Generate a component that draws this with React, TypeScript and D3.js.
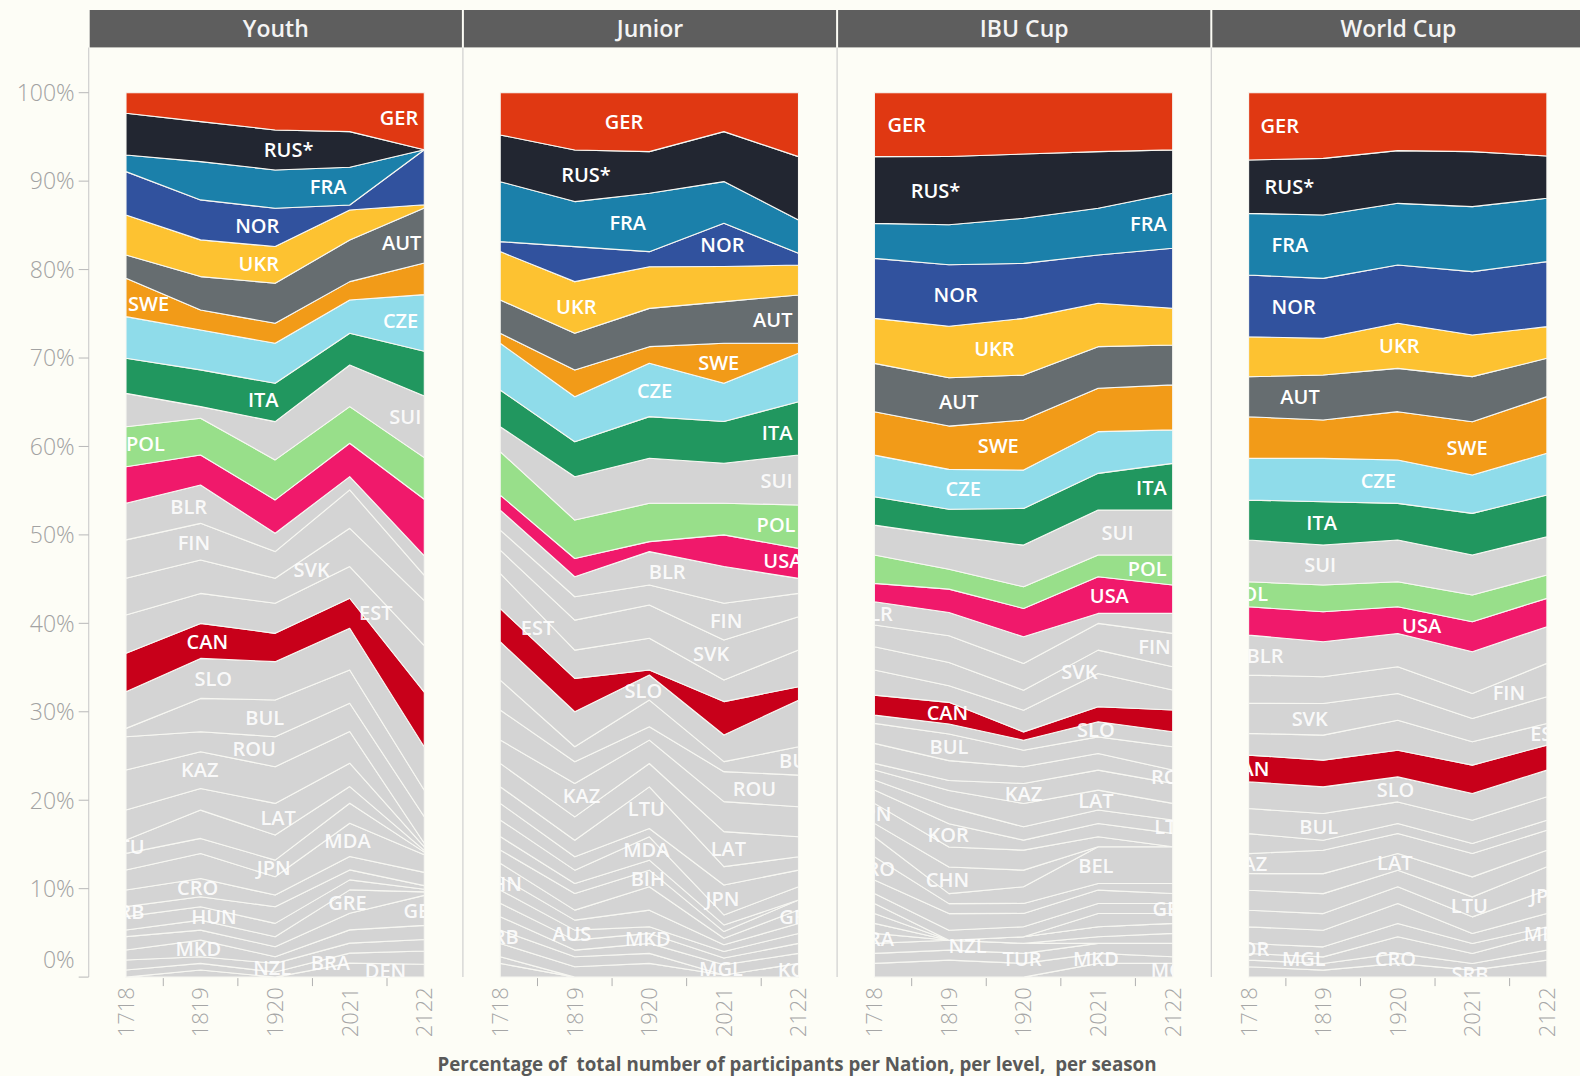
import React from 'react';
import * as d3 from 'd3';

// seasons, levels and axis ticks
const SEASONS = ['1718', '1819', '1920', '2021', '2122'];
const LEVELS = ['Youth', 'Junior', 'IBU Cup', 'World Cup'];
const Y_TICKS = [0, 0.1, 0.2, 0.3, 0.4, 0.5, 0.6, 0.7, 0.8, 0.9, 1];
const TITLE = 'Percentage of  total number of participants per Nation, per level,  per season';

const COLORS: Record<string, string> = {
  GER: '#e03812', 'RUS*': '#222631', FRA: '#1b80aa', NOR: '#31529e', UKR: '#fdc231',
  AUT: '#666d70', SWE: '#f29b18', CZE: '#8fdcea', ITA: '#21975f', POL: '#98df8a',
  USA: '#f0196b', CAN: '#c8001a',
};
const OTHER = '#d4d4d4';
const BG = '#fdfdf6';

// share of participants (%) per nation, top of the stack first
const YOUTH: [string, number[]][] = [
  ['GER', [2.33, 3.27, 4.21, 4.40, 6.47]],
  ['RUS*', [4.71, 4.52, 4.52, 4.03, 0]],
  ['FRA', [1.88, 4.33, 4.33, 4.26, 0]],
  ['NOR', [4.90, 4.52, 4.33, 0.57, 6.22]],
  ['UKR', [4.52, 4.15, 4.15, 3.39, 0.38]],
  ['AUT', [2.64, 3.77, 4.52, 4.71, 6.22]],
  ['SWE', [4.33, 2.26, 2.26, 2.07, 3.58]],
  ['CZE', [4.71, 4.52, 4.52, 3.77, 6.41]],
  ['ITA', [3.96, 4.15, 4.33, 3.58, 5.09]],
  ['SUI', [3.77, 1.32, 4.33, 4.71, 6.97]],
  ['POL', [4.52, 4.15, 4.52, 4.15, 4.71]],
  ['USA', [4.13, 3.40, 3.77, 3.76, 6.41]],
  ['BLR', [4.14, 4.33, 2.07, 1.51, 2.23]],
  ['FIN', [4.34, 4.15, 3.02, 4.34, 2.86]],
  ['SVK', [4.14, 3.77, 2.82, 4.33, 5.09]],
  ['EST', [4.34, 3.39, 3.40, 3.58, 5.27]],
  ['CAN', [4.33, 3.96, 3.20, 3.39, 6.22]],
  ['SLO', [4.15, 4.52, 4.33, 4.71, 4.90]],
  ['BUL', [0.94, 3.77, 4.15, 3.77, 3.00]],
  ['ROU', [3.77, 2.26, 3.39, 3.20, 3.00]],
  ['KAZ', [4.52, 4.15, 4.15, 3.58, 0.40]],
  ['LAT', [3.39, 2.45, 3.58, 2.64, 0.40]],
  ['LTU', [1.51, 3.20, 2.83, 1.88, 0.20]],
  ['JPN', [1.88, 1.70, 1.88, 2.26, 0.30]],
  ['MDA', [2.26, 2.83, 2.07, 3.77, 2.00]],
  ['CRO', [1.88, 2.07, 1.32, 1.51, 1.50]],
  ['SRB', [1.13, 1.13, 1.88, 1.13, 0.40]],
  ['HUN', [1.51, 1.51, 1.51, 1.13, 0.30]],
  ['GRE', [0.75, 1.13, 1.13, 2.64, 0.40]],
  ['GEO', [1.51, 1.13, 1.13, 1.88, 3.40]],
  ['MKD', [1.13, 1.88, 0.75, 1.50, 1.60]],
  ['NZL', [1.13, 0.75, 0.98, 1.13, 1.30]],
  ['BRA', [0.80, 0.75, 0.57, 1.13, 1.50]],
  ['DEN', [0, 0.80, 0, 1.58, 1.46]],
];

const JUNIOR: [string, number[]][] = [
  ['GER', [4.78, 6.47, 6.66, 4.40, 7.23]],
  ['RUS*', [5.28, 5.84, 4.71, 5.65, 7.16]],
  ['FRA', [6.78, 5.09, 6.60, 4.71, 3.77]],
  ['NOR', [1.13, 3.96, 1.70, 4.90, 1.32]],
  ['UKR', [5.47, 5.84, 4.71, 3.96, 3.39]],
  ['AUT', [3.77, 4.15, 4.33, 4.71, 5.47]],
  ['SWE', [1.13, 3.02, 1.88, 4.52, 1.13]],
  ['CZE', [5.28, 5.09, 6.03, 4.33, 5.47]],
  ['ITA', [4.15, 3.96, 4.71, 4.71, 6.03]],
  ['SUI', [2.82, 4.90, 5.09, 4.53, 5.66]],
  ['POL', [4.91, 4.34, 4.33, 3.58, 4.90]],
  ['USA', [1.70, 2.07, 1.13, 3.58, 3.39]],
  ['BLR', [2.26, 2.26, 3.77, 4.15, 1.70]],
  ['FIN', [2.26, 2.64, 2.26, 4.15, 2.64]],
  ['SVK', [2.64, 3.39, 3.77, 4.52, 3.77]],
  ['EST', [3.96, 3.20, 3.58, 2.45, 4.15]],
  ['CAN', [3.77, 3.77, 0.57, 3.77, 1.51]],
  ['SLO', [4.33, 3.96, 2.83, 3.02, 5.28]],
  ['BUL', [3.39, 1.70, 3.02, 1.13, 3.20]],
  ['ROU', [3.39, 2.45, 1.51, 3.39, 3.58]],
  ['KAZ', [2.64, 3.77, 2.64, 3.39, 3.39]],
  ['LAT', [2.64, 2.64, 2.64, 3.96, 2.26]],
  ['LTU', [1.88, 1.88, 4.71, 2.07, 1.51]],
  ['JPN', [1.88, 1.51, 0.94, 3.39, 1.88]],
  ['MDA', [1.88, 1.51, 2.64, 1.13, 1.51]],
  ['CRO', [1.51, 1.13, 1.13, 0.75, 0]],
  ['BIH', [1.51, 1.88, 1.88, 0.75, 1.13]],
  ['GRE', [1.51, 1.13, 2.64, 0.75, 1.51]],
  ['CHN', [1.51, 1.13, 1.88, 0.75, 1.13]],
  ['AUS', [1.51, 1.13, 0.75, 0.75, 1.13]],
  ['MKD', [1.51, 1.13, 1.13, 0.75, 1.13]],
  ['MGL', [1.51, 0.75, 1.13, 1.17, 1.13]],
  ['SRB', [1.51, 1.13, 1.13, 0, 0]],
  ['KOR', [1.51, 1.17, 1.55, 0.23, 1.55]],
  ['GBR', [0.75, 0, 0, 0, 0]],
  ['BEL', [1.55, 0, 0, 0, 0]],
];

const IBU: [string, number[]][] = [
  ['GER', [7.23, 7.23, 6.93, 6.66, 6.47]],
  ['RUS*', [7.54, 7.73, 7.27, 6.41, 4.90]],
  ['FRA', [3.96, 4.52, 5.09, 5.28, 6.22]],
  ['NOR', [6.78, 6.97, 6.22, 5.47, 6.78]],
  ['UKR', [5.09, 5.84, 6.41, 4.90, 4.15]],
  ['AUT', [5.47, 5.47, 5.09, 4.71, 4.52]],
  ['SWE', [4.90, 4.90, 5.65, 4.90, 5.09]],
  ['CZE', [4.71, 4.52, 4.33, 4.72, 3.78]],
  ['ITA', [3.20, 3.02, 4.15, 4.15, 5.28]],
  ['SUI', [3.39, 3.77, 4.71, 5.09, 5.09]],
  ['POL', [3.20, 2.26, 2.45, 2.45, 3.39]],
  ['USA', [2.07, 2.64, 3.20, 4.15, 3.20]],
  ['BLR', [2.64, 2.64, 3.02, 1.13, 2.26]],
  ['FIN', [2.45, 3.02, 3.02, 3.02, 3.77]],
  ['SVK', [2.64, 2.64, 2.26, 2.64, 2.64]],
  ['EST', [2.83, 1.88, 2.45, 3.77, 2.26]],
  ['CAN', [2.26, 2.45, 0.94, 1.70, 2.45]],
  ['SLO', [0.94, 1.13, 1.13, 1.70, 1.70]],
  ['BUL', [2.26, 3.02, 1.88, 1.88, 2.64]],
  ['ROU', [2.26, 2.26, 1.88, 1.88, 1.51]],
  ['KAZ', [0.75, 1.13, 2.26, 2.26, 2.26]],
  ['LAT', [1.13, 1.88, 2.64, 2.26, 1.88]],
  ['LTU', [1.13, 1.88, 1.51, 1.51, 1.51]],
  ['KOR', [1.51, 2.64, 1.13, 1.51, 1.51]],
  ['JPN', [2.26, 2.26, 2.26, 1.13, 0]],
  ['CHN', [1.51, 3.02, 1.88, 0, 0]],
  ['BEL', [2.26, 1.13, 1.88, 4.15, 4.15]],
  ['CRO', [2.64, 1.13, 1.13, 0.75, 1.13]],
  ['SRB', [1.51, 1.88, 1.51, 1.51, 1.13]],
  ['GBR', [1.13, 1.13, 1.13, 1.13, 1.13]],
  ['GRE', [1.13, 0, 0, 1.51, 1.13]],
  ['HUN', [1.13, 0, 0, 0, 0]],
  ['ESP', [1.13, 0, 0.75, 1.13, 1.13]],
  ['BRA', [1.13, 0, 0, 0.75, 1.13]],
  ['NZL', [1.13, 1.13, 1.13, 0, 0]],
  ['TUR', [1.13, 1.13, 1.13, 1.13, 1.51]],
  ['MKD', [1.55, 1.92, 1.55, 1.13, 0.75]],
  ['MGL', [0, 0, 0, 1.55, 1.55]],
];

const WORLD: [string, number[]][] = [
  ['GER', [7.61, 7.42, 6.55, 6.66, 7.15]],
  ['RUS*', [6.03, 6.41, 5.96, 6.22, 4.79]],
  ['FRA', [6.97, 7.16, 6.97, 7.35, 7.16]],
  ['NOR', [6.97, 6.78, 6.60, 7.16, 7.35]],
  ['UKR', [4.52, 4.15, 5.09, 4.71, 3.58]],
  ['AUT', [4.52, 5.09, 4.90, 5.09, 4.33]],
  ['SWE', [4.71, 4.33, 5.47, 6.03, 6.41]],
  ['CZE', [4.71, 4.90, 4.90, 4.34, 4.72]],
  ['ITA', [4.52, 4.90, 4.15, 4.71, 4.71]],
  ['SUI', [4.71, 4.52, 4.71, 4.52, 4.33]],
  ['POL', [2.83, 3.02, 2.83, 3.02, 2.64]],
  ['USA', [3.20, 3.39, 3.02, 3.39, 3.20]],
  ['BLR', [4.52, 3.96, 3.77, 4.71, 4.15]],
  ['FIN', [3.20, 3.02, 3.02, 2.83, 3.77]],
  ['SVK', [3.39, 3.58, 3.02, 2.64, 3.02]],
  ['EST', [2.45, 2.83, 3.39, 2.64, 2.45]],
  ['CAN', [3.02, 3.02, 3.02, 3.20, 2.83]],
  ['SLO', [3.02, 3.02, 2.83, 3.02, 3.02]],
  ['BUL', [2.83, 3.02, 2.45, 2.64, 2.64]],
  ['ROU', [2.26, 1.13, 1.13, 1.13, 1.13]],
  ['KAZ', [2.26, 2.64, 2.26, 2.64, 2.26]],
  ['LAT', [1.88, 2.26, 1.88, 2.26, 1.88]],
  ['LTU', [2.26, 2.26, 1.88, 2.26, 2.64]],
  ['JPN', [1.88, 1.88, 1.88, 1.88, 2.64]],
  ['MDA', [1.88, 1.88, 2.26, 1.13, 1.51]],
  ['KOR', [1.13, 1.13, 1.51, 1.13, 0.75]],
  ['MGL', [0.75, 0.75, 1.88, 1.13, 1.88]],
  ['CRO', [0.75, 0.75, 1.13, 0.75, 1.13]],
  ['SRB', [1.17, 0.79, 1.55, 0.79, 1.92]],
];

// mark labels: nation, season position (0..4), anchor, optional x shift, optional y shift
type Lab = [string, number, 'start' | 'middle' | 'end', number?, number?];

const YOUTH_LABELS: Lab[] = [
  ['GER', 3.6, 'end'], ['RUS*', 2.18, 'middle'], ['FRA', 2.71, 'middle'], ['NOR', 1.76, 'middle'],
  ['UKR', 1.78, 'middle'], ['AUT', 3.7, 'end', 3], ['SWE', 0.3, 'start', 2], ['CZE', 3.7, 'end'],
  ['ITA', 1.84, 'middle'], ['SUI', 3.75, 'end', 3], ['POL', 0.25, 'start', 0], ['BLR', 0.84, 'middle'],
  ['FIN', 0.91, 'middle'], ['SVK', 2.49, 'middle'], ['EST', 3.35, 'middle'], ['CAN', 1.09, 'middle'],
  ['SLO', 1.17, 'middle'], ['BUL', 1.86, 'middle'], ['ROU', 1.72, 'middle'], ['KAZ', 0.99, 'middle'],
  ['LAT', 2.04, 'middle'], ['JPN', 1.98, 'middle'], ['MDA', 2.97, 'middle'], ['CRO', 0.96, 'middle'],
  ['GRE', 2.97, 'middle'], ['HUN', 1.18, 'middle'], ['MKD', 0.97, 'middle'], ['NZL', 1.96, 'middle'],
  ['BRA', 2.74, 'middle'], ['DEN', 3.48, 'middle'], ['GEO', 4, 'middle'], ['LTU', 0, 'middle'],
  ['SRB', 0, 'middle'],
];

const JUNIOR_LABELS: Lab[] = [
  ['GER', 1.66, 'middle'], ['RUS*', 1.15, 'middle'], ['FRA', 1.71, 'middle'], ['NOR', 2.98, 'middle'],
  ['UKR', 1.02, 'middle'], ['AUT', 3.7, 'end'], ['SWE', 2.93, 'middle'], ['CZE', 2.07, 'middle'],
  ['ITA', 3.7, 'end'], ['SUI', 3.7, 'end'], ['POL', 3.7, 'end', 3], ['USA', 3.79, 'middle'],
  ['BLR', 2.24, 'middle'], ['FIN', 3.03, 'middle'], ['SVK', 2.83, 'middle'], ['EST', 0.5, 'middle'],
  ['SLO', 1.92, 'middle'], ['BUL', 4, 'middle'], ['ROU', 3.41, 'middle'], ['KAZ', 1.09, 'middle'],
  ['LTU', 1.96, 'middle'], ['LAT', 3.06, 'middle'], ['MDA', 1.96, 'middle'], ['JPN', 2.98, 'middle'],
  ['GRE', 4, 'middle'], ['BIH', 1.98, 'middle'], ['AUS', 0.96, 'middle'], ['MKD', 1.98, 'middle'],
  ['MGL', 2.96, 'middle'], ['KOR', 4, 'middle'], ['CHN', 0, 'middle'], ['SRB', 0, 'middle'],
];

const IBU_LABELS: Lab[] = [
  ['GER', 0.4, 'start', 13], ['RUS*', 0.82, 'middle'], ['FRA', 3.7, 'end'], ['NOR', 1.09, 'middle'],
  ['UKR', 1.61, 'middle'], ['AUT', 1.13, 'middle'], ['SWE', 1.66, 'middle'], ['CZE', 1.19, 'middle'],
  ['ITA', 3.7, 'end'], ['SUI', 3.26, 'middle'], ['POL', 3.7, 'end'], ['USA', 3.15, 'middle'],
  ['BLR', 0, 'middle'], ['FIN', 3.75, 'end', 2], ['SVK', 2.75, 'middle'], ['CAN', 0.98, 'middle'],
  ['SLO', 2.97, 'middle'], ['BUL', 1.0, 'middle'], ['ROU', 4, 'middle'], ['KAZ', 2.0, 'middle'],
  ['LAT', 2.97, 'middle'], ['LTU', 4, 'middle'], ['JPN', 0, 'middle'], ['KOR', 0.99, 'middle'],
  ['BEL', 2.97, 'middle'], ['CHN', 0.98, 'middle'], ['CRO', 0, 'middle'], ['GBR', 4, 'middle'],
  ['BRA', 0, 'middle'], ['NZL', 1.25, 'middle'], ['TUR', 1.98, 'middle'], ['MKD', 2.97, 'middle'],
  ['MGL', 4, 'middle'],
];

const WORLD_LABELS: Lab[] = [
  ['GER', 0.4, 'start', 12], ['RUS*', 0.4, 'start', 16], ['FRA', 0.4, 'start', 23], ['NOR', 0.4, 'start', 23],
  ['UKR', 2.02, 'middle'], ['AUT', 0.69, 'middle'], ['SWE', 2.93, 'middle'], ['CZE', 1.74, 'middle'],
  ['ITA', 0.98, 'middle'], ['SUI', 0.96, 'middle'], ['POL', 0, 'middle'], ['USA', 2.32, 'middle'],
  ['BLR', 0.2, 'start', -2], ['FIN', 3.49, 'middle'], ['SVK', 0.82, 'middle'], ['EST', 4, 'middle'],
  ['CAN', 0, 'middle'], ['SLO', 1.97, 'middle'], ['BUL', 0.94, 'middle'], ['KAZ', 0, 'middle'],
  ['LAT', 1.96, 'middle'], ['LTU', 2.96, 'middle'], ['JPN', 4, 'middle', 0, -6], ['MDA', 4, 'middle', 0, 14],
  ['KOR', 0, 'middle'], ['MGL', 0.74, 'middle'], ['CRO', 1.97, 'middle'], ['SRB', 2.97, 'middle'],
];

const PANELS = [YOUTH, JUNIOR, IBU, WORLD];
const PANEL_LABELS = [YOUTH_LABELS, JUNIOR_LABELS, IBU_LABELS, WORLD_LABELS];

const W = 1580, H = 1076;
const PANE_X = 88.7, PANE_W = 374.2, INSET = 37.3, AREA_W = 298.3;
const HEAD_TOP = 10, HEAD_BOT = 47.4;
const FONT = "'Open Sans', 'Noto Sans', sans-serif";

const y = d3.scaleLinear().domain([0, 1]).range([977.1, 92.7]);
const x = d3.scalePoint<string>().domain(SEASONS).range([INSET, INSET + AREA_W]);

function lerpAt(vals: number[], t: number) {
  const i = Math.min(SEASONS.length - 2, Math.floor(t));
  const f = t - i;
  return vals[i] + f * (vals[i + 1] - vals[i]);
}

function Panel({ index, rows, labels }: { index: number; rows: [string, number[]][]; labels: Lab[] }) {
  const left = PANE_X + index * PANE_W;
  const names = rows.map(r => r[0]);
  const table = SEASONS.map((season, i) => {
    const o: Record<string, any> = { season };
    rows.forEach(([n, v]) => { o[n] = v[i]; });
    return o;
  });
  const series = d3.stack<any>().keys([...names].reverse()).offset(d3.stackOffsetExpand)(table);
  const area = d3.area<any>()
    .x(d => x(d.data.season) as number)
    .y0(d => y(d[0]))
    .y1(d => y(d[1]));
  const byName = new Map(series.map(s => [s.key, s]));
  const xs = SEASONS.map(s => x(s) as number);
  const clipId = `clip-${index}`;

  return (
    <g transform={`translate(${left},0)`}>
      <defs>
        <clipPath id={clipId}>
          <rect x={INSET} y={y(1)} width={AREA_W} height={y(0) - y(1)} />
        </clipPath>
      </defs>
      {series.map(s => (
        <path key={s.key} d={area(s as any) || ''} fill={COLORS[s.key] || OTHER}
          stroke="#f7f7f2" strokeWidth={1.1} strokeLinejoin="round" />
      ))}
      <g clipPath={`url(#${clipId})`}>
        {labels.map(([name, t, anchor, dx, dy]) => {
          const s = byName.get(name);
          if (!s) return null;
          const mids = s.map(d => y((d[0] + d[1]) / 2));
          const ly = lerpAt(mids, t) + (dy ?? 0);
          let lx = lerpAt(xs, t) + (dx ?? 0);
          if (anchor === 'start') lx = xs[0] + (dx ?? 6);
          if (anchor === 'end') lx = xs[xs.length - 1] - (dx ?? 6);
          const colored = !!COLORS[name];
          return (
            <text key={name} x={lx} y={ly} dy="0.36em" textAnchor={anchor}
              fill="#ffffff" fillOpacity={colored ? 1 : 0.9}
              fontFamily={FONT} fontWeight={600} fontSize={20}>{name}</text>
          );
        })}
      </g>
      {/* header */}
      <rect x={1} y={HEAD_TOP} width={PANE_W - 2} height={HEAD_BOT - HEAD_TOP} fill="#5e5e5e" />
      <text x={PANE_W / 2} y={(HEAD_TOP + HEAD_BOT) / 2} dy="0.35em" textAnchor="middle"
        fill="#f4f4f4" fontFamily={FONT} fontWeight={600} fontSize={23}>{LEVELS[index]}</text>
      {/* x axis */}
      {xs.slice(0, -1).map((xv, i) => (
        <line key={i} x1={(xv + xs[i + 1]) / 2} x2={(xv + xs[i + 1]) / 2} y1={y(0) + 1} y2={y(0) + 9}
          stroke="#b0b0b0" strokeWidth={1} />
      ))}
      {SEASONS.map(s => (
        <text key={s} transform={`translate(${x(s)},${y(0) + 10}) rotate(-90)`} dy="0.36em" textAnchor="end"
          fill="#a6a6a6" fontFamily={FONT} fontWeight={300} fontSize={22}>{s}</text>
      ))}
    </g>
  );
}

export default function App() {
  return (
    <svg width={W} height={H} style={{ position: 'absolute', left: 0, top: 0, display: 'block' }}>
      <rect width={W} height={H} fill={BG} />
      {/* pane dividers and y axis line */}
      {[0, 1, 2, 3].map(i => (
        <line key={i} x1={PANE_X + i * PANE_W} x2={PANE_X + i * PANE_W} y1={HEAD_BOT} y2={y(0)}
          stroke="#cfcfcf" strokeWidth={1.2} />
      ))}
      {PANELS.map((rows, i) => (
        <Panel key={i} index={i} rows={rows} labels={PANEL_LABELS[i]} />
      ))}
      {/* y axis */}
      {Y_TICKS.map(t => (
        <g key={t}>
          <line x1={PANE_X - 10} x2={PANE_X} y1={y(t)} y2={y(t)} stroke="#b8b8b8" strokeWidth={1} />
          <text x={PANE_X - 14} y={t === 0 ? y(t) - 17 : y(t)} dy="0.36em" textAnchor="end"
            fill="#a2a2a2" fontFamily={FONT} fontWeight={300} fontSize={23}>{d3.format('.0%')(t)}</text>
        </g>
      ))}
      <text x={797} y={1071} textAnchor="middle" textLength={719} lengthAdjust="spacingAndGlyphs"
        style={{ whiteSpace: 'pre' }} fill="#595959" fontFamily={FONT} fontWeight={700} fontSize={19}>
        {TITLE}
      </text>
    </svg>
  );
}
